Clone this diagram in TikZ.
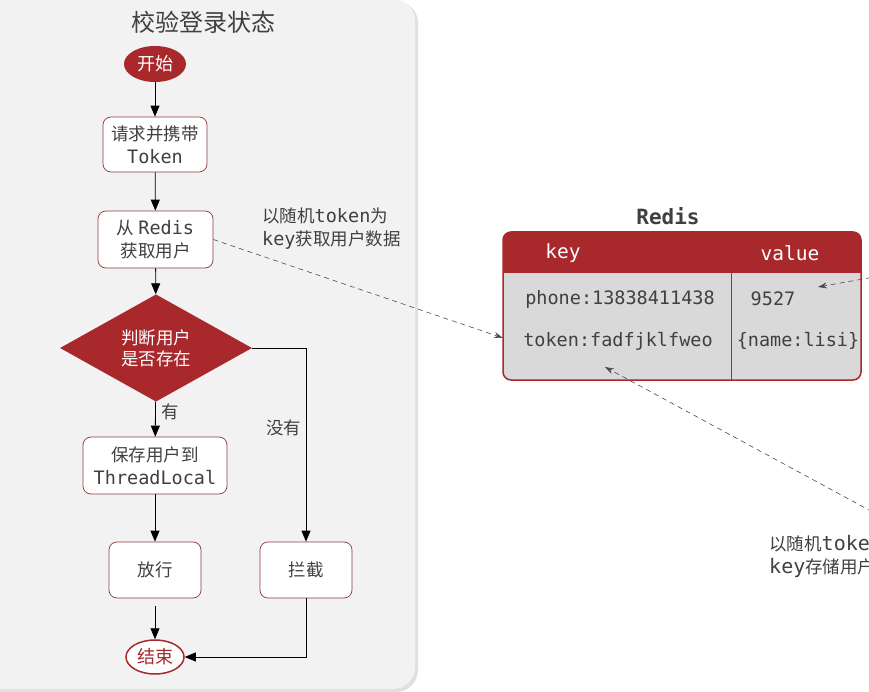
\documentclass[tikz,border=0pt]{standalone}
\usepackage{fontspec}
\setmainfont{Noto Sans CJK SC}
\setmonofont{DejaVu Sans Mono}
\usetikzlibrary{shapes.geometric,arrows.meta}
\definecolor{dred}{HTML}{A8282B}
\definecolor{bred}{HTML}{8E3A3A}
\definecolor{panel}{HTML}{F2F2F2}
\definecolor{tbody}{HTML}{D9D9D9}
\definecolor{tgrey}{HTML}{404040}
\newcommand\mono[1]{{\ttfamily\fontsize{18.5}{23}\selectfont #1}}
\newcommand\monob[1]{{\ttfamily\fontsize{20}{23}\selectfont #1}}
\begin{document}
\begin{tikzpicture}[x=1pt,y=-1pt,
  box/.style={draw=bred,fill=white,rounded corners=8pt,line width=0.7pt,align=center,text=tgrey,inner sep=0pt,font=\fontsize{17.5}{23}\selectfont},
  startst/.style={ellipse,fill=dred,text=white,minimum width=62pt,minimum height=36pt,inner sep=0pt,font=\fontsize{18}{20}\selectfont},
  endst/.style={ellipse,draw=dred,line width=1.5pt,fill=white,text=dred,minimum width=58pt,minimum height=34pt,inner sep=0pt,font=\fontsize{18}{20}\selectfont},
  dia/.style={diamond,fill=dred,text=white,minimum width=192pt,minimum height=67pt,inner sep=0pt,align=center,font=\fontsize{17.5}{21}\selectfont},
  flow/.style={-{Triangle[length=11pt,width=9pt]},line width=0.8pt,draw=black},
  dline/.style={dash pattern=on 5pt off 4pt,line width=0.6pt,draw=black!70,-{Stealth[length=9pt,width=6pt]}},
  lbl/.style={text=tgrey,font=\fontsize{17.5}{20}\selectfont},
  note/.style={text=tgrey,align=left,inner sep=0pt,font=\fontsize{17.5}{23}\selectfont},
  cell/.style={text=tgrey,inner sep=0pt,font=\ttfamily\fontsize{18.5}{20}\selectfont},
  head/.style={text=white,inner sep=0pt,font=\ttfamily\fontsize{19.5}{20}\selectfont}
]
\clip (0,0) rectangle (869,692);
\fill[white] (0,0) rectangle (869,692);
% left panel
\fill[black!12,rounded corners=22pt] (-30,1) rectangle (418,692);
\fill[panel,rounded corners=22pt] (-30,-1) rectangle (415,689);
\node[text=tgrey,font=\fontsize{24}{26}\selectfont] (title) at (203,22) {校验登录状态};

% flow nodes
\node[startst] (start) at (155,64) {开始};
\node[box,minimum width=104pt,minimum height=55pt] (req) at (155,144.5) {请求并携带\\\mono{Token}};
\node[box,minimum width=115pt,minimum height=57pt] (get) at (155.5,239.5) {从 \mono{Redis}\\获取用户};
\node[dia] (dec) at (156,348) {判断用户\\是否存在};
\node[box,minimum width=144pt,minimum height=57pt] (save) at (155,465.5) {保存用户到\\\mono{ThreadLocal}};
\node[box,minimum width=92pt,minimum height=56pt] (pass) at (155,570) {放行};
\node[box,minimum width=92pt,minimum height=56pt] (block) at (306,570) {拦截};
\node[endst] (end) at (155,657) {结束};

\draw[flow] (start) -- (req);
\draw[flow] (req) -- (get);
\draw[flow] (get) -- (dec);
\draw[flow] (dec) -- node[lbl,right=2pt,pos=0.3] (yes) {有} (save);
\draw[flow] (save) -- (pass);
\draw[flow,shorten <=8pt] (pass) -- (end);
\draw[flow] (dec.east) -| node[lbl,left=1pt,pos=0.706] (no) {没有} (block.north);
\draw[flow] (block.south) |- (end.east);

% annotation top
\node[note,anchor=west] (n1) at (262,228.5) {以随机\mono{token}为\\\mono{key}获取用户数据};

% Redis table
\node[text=tgrey,font=\ttfamily\bfseries\fontsize{21}{22}\selectfont] (rtitle) at (668,216) {Redis};
\node[rectangle,rounded corners=8pt,fill=tbody,minimum width=358pt,minimum height=148pt,inner sep=0pt] (tbl) at (682,306) {};
\begin{scope}
\clip[rounded corners=8pt] (503,232) rectangle (861,380);
\fill[dred] (503,232) rectangle (861,273);
\end{scope}
\draw[bred,line width=0.8pt] (731,273) -- (731,380);
\draw[dred,line width=1.5pt,rounded corners=8pt] (503,232) rectangle (861,380);
\node[head] (hkey) at (563,253.5) {key};
\node[head] (hval) at (790,253.5) {value};
\node[cell] (k1) at (620,299) {phone:13838411438};
\node[cell] (v1) at (773,299) {9527};
\node[cell] (k2) at (618,341) {token:fadfjklfweo};
\node[cell] (v2) at (798,341) {\{name:lisi\}};

% dashed connectors
\coordinate (tk) at (503,338);
\draw[dline] (get.east) -- (tk);
\coordinate (r1) at (880,276);
\coordinate (vv) at (818,287);
\draw[dline] (r1) -- (vv);
\coordinate (r2) at (880,516);
\coordinate (t2) at (605,367);
\draw[dline] (r2) -- (t2);

% annotation bottom right (cut off at the picture's edge, as in the reference)
\node[note,anchor=west] (n2) at (769,556.5) {以随机\monob{token}为\\\monob{key}存储用户数据};
\end{tikzpicture}
\end{document}
